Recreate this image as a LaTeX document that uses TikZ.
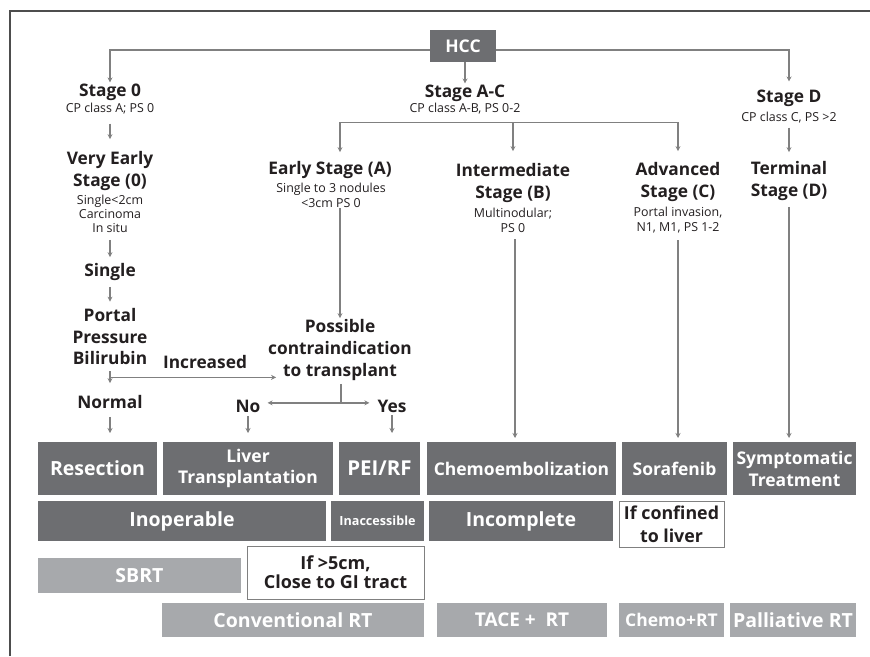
\documentclass[tikz,border=0pt]{standalone}
\usepackage{fontspec}
\setmainfont{Open Sans}
\usetikzlibrary{arrows.meta,calc}
\definecolor{dbox}{HTML}{6D6E71}
\definecolor{lbox}{HTML}{A7A9AC}
\definecolor{lc}{HTML}{808080}
\definecolor{txt}{HTML}{231F20}
\definecolor{fr}{HTML}{4D4D4D}
\newcommand{\rbox}[7]{\node[#6,minimum width={(#4-#2)*1pt},minimum height={(#5-#3)*1pt}] (#1) at ({(#2+#4)/2},{(#3+#5)/2}) {#7};}
\begin{document}
\begin{tikzpicture}[x=1pt,y=-1pt,
 hd/.style={font=\fontsize{17.3}{22}\selectfont\bfseries,text=txt,align=center,inner sep=1pt},
 sub/.style={font=\fontsize{12.4}{14.5}\selectfont,text=txt,align=center,inner sep=1pt},
 arr/.style={draw=lc,line width=1.4pt,-{Stealth[length=5pt,width=5pt]}},
 ln/.style={draw=lc,line width=1.4pt},
 bxbase/.style={inner sep=0pt,outer sep=0pt,align=center,font=\fontsize{19.5}{21}\selectfont\bfseries},
 sm/.style={font=\fontsize{17.5}{21}\selectfont\bfseries},
 dk/.style={bxbase,fill=dbox,text=white},
 lt/.style={bxbase,fill=lbox,text=white},
 wt/.style={bxbase,fill=white,draw=lc,line width=0.8pt,text=txt}
]
\useasboundingbox (0,0) rectangle (870,656);
\fill[white] (0,0) rectangle (870,656);
\draw[fr,line width=1.2pt] (10,656) -- (10,11) -- (870,11);

% top box
\rbox{hcc}{430}{30}{496}{62}{dk,sm}{HCC}

% column stage 0
\node[hd] (s0t) at (110,92) {Stage 0};
\node[sub] (s0s) at (110,109) {CP class A; PS 0};
\node[hd] (vet) at (110,171) {Very Early\\Stage (0)};
\node[sub,font=\fontsize{12.4}{14}\selectfont] (ves) at (110,214) {Single<2cm\\Carcinoma\\In situ};
\node[hd] (sgl) at (110,272) {Single};
\node[hd,font=\fontsize{17.3}{21.5}\selectfont\bfseries] (ppb) at (110,337) {Portal\\Pressure\\Bilirubin};
\node[hd] (nrm) at (110,402) {Normal};
\node[hd] (inc) at (205,362) {Increased};

% early stage
\node[hd] (eAt) at (330,170) {Early Stage (A)};
\node[sub,font=\fontsize{12.4}{15}\selectfont] (eAs) at (331,195) {Single to 3 nodules\\<3cm PS 0};
\node[hd] (poss) at (340,350) {Possible\\contraindication\\to transplant};
\node[hd] (no) at (248,406) {No};
\node[hd] (yes) at (392,406) {Yes};

% stage A-C
\node[hd] (sACt) at (465,93) {Stage A-C};
\node[sub] (sACs) at (465,109) {CP class A-B, PS 0-2};
\node[hd] (iBt) at (513,183) {Intermediate\\Stage (B)};
\node[sub,font=\fontsize{12.4}{15}\selectfont] (iBs) at (513,220) {Multinodular;\\PS 0};
\node[hd] (aCt) at (678,182) {Advanced\\Stage (C)};
\node[sub,font=\fontsize{12.4}{15}\selectfont] (aCs) at (678,220) {Portal invasion,\\N1, M1, PS 1-2};

% stage D
\node[hd] (sDt) at (789,98) {Stage D};
\node[sub] (sDs) at (789,118) {CP class C, PS >2};
\node[hd] (tDt) at (789,181) {Terminal\\Stage (D)};

% boxes row 1
\rbox{res}{38}{442}{157}{495}{dk}{Resection}
\rbox{liv}{163}{442}{333}{495}{dk,sm}{Liver\\Transplantation}
\rbox{pei}{339}{442}{420}{495}{dk,font=\fontsize{20.5}{21}\selectfont\bfseries}{PEI/RF}
\rbox{che}{427}{442}{616}{495}{dk,sm}{Chemoembolization}
\rbox{sor}{622}{442}{727}{495}{dk,sm}{Sorafenib}
\rbox{sym}{733}{442}{856}{495}{dk,font=\fontsize{17.5}{22}\selectfont\bfseries}{Symptomatic\\Treatment}
% row 2
\rbox{inop}{38}{501}{326}{541}{dk}{Inoperable}
\rbox{inac}{331}{501}{424}{541}{dk,font=\fontsize{12.6}{14}\selectfont\bfseries}{Inaccessible}
\rbox{incp}{429}{501}{613}{541}{dk}{Incomplete}
\rbox{conf}{619}{501}{724}{547}{wt,font=\fontsize{17.8}{23}\selectfont\bfseries}{If confined\\to liver}
% row 3
\rbox{sbrt}{38}{558}{241}{593}{lt}{SBRT}
\rbox{gi}{247}{546}{424}{599}{wt,font=\fontsize{18}{19}\selectfont\bfseries}{If >5cm,\\Close to GI tract}
% row 4
\rbox{conv}{162}{603}{424}{637}{lt}{Conventional RT}
\rbox{tace}{437}{603}{607}{637}{lt,font=\fontsize{19}{21}\selectfont\bfseries}{TACE +\ \ RT}
\rbox{chrt}{619}{603}{724}{637}{lt,sm}{Chemo+RT}
\rbox{pall}{730}{603}{856}{637}{lt}{Palliative RT}

% connectors from HCC
\draw[arr] ($(hcc.west)+(0,4)$) -| (s0t.north);
\draw[arr] ($(hcc.east)+(0,4)$) -| ([yshift=7pt]sDt.north);
\draw[arr] (hcc.south -| sACt.north) -- (sACt.north);

% stage 0 chain
\draw[arr,shorten <=8pt,shorten >=11pt] (s0s) -- (vet);
\draw[arr,shorten <=6pt,shorten >=5pt] (ves) -- (sgl);
\draw[arr,shorten <=5pt,shorten >=6pt] (sgl) -- (ppb);
\coordinate (brk) at ($(ppb.south)+(0,11)$);
\draw[arr,shorten <=5pt,shorten >=11pt] (ppb) -- (nrm);
\draw[arr] (brk) -- ($(brk -| poss.west)+(9,0)$);
\draw[arr,shorten <=7pt,shorten >=9pt] (nrm.south) -- (nrm.south |- res.north);

% early stage
\coordinate (bar) at ($(sACs.south)+(0,7)$);
\draw[arr,shorten >=8pt] (bar -| iBt.north) -- (bar -| poss.north) -- (eAt.north -| poss.north);
\draw[arr,shorten >=10pt] (bar -| iBt.north) -- (bar -| aCt.north) -- (aCt.north);
\draw[arr,shorten >=11pt] (bar -| iBt.north) -- (iBt.north);
\draw[arr] (eAs.south -| poss.north) -- (poss.north);
\coordinate (pj) at ($(poss.south)+(1,21)$);
\draw[ln] ($(poss.south)+(1,2)$) -- (pj);
\draw[arr,shorten >=6pt] (pj) -- (pj -| no.east);
\draw[arr,shorten >=7pt] (pj) -- (pj -| yes.west);
\draw[arr,shorten <=3pt,shorten >=9pt] (no.south) -- (no.south |- liv.north);
\draw[arr,shorten <=2pt,shorten >=9pt] (yes.south) -- (yes.south |- pei.north);

% long lines
\draw[arr,shorten <=6pt,shorten >=4pt] ([xshift=2pt]iBs.south) -- ([xshift=2pt]iBs.south |- che.north);
\draw[arr,shorten <=6pt,shorten >=4pt] (aCs.south) -- (aCs.south |- sor.north);
\draw[arr,shorten <=3pt,shorten >=8pt] (sDs) -- (tDt);
\draw[arr,shorten <=5pt,shorten >=4pt] (tDt.south) -- (tDt.south |- sym.north);
\end{tikzpicture}
\end{document}
